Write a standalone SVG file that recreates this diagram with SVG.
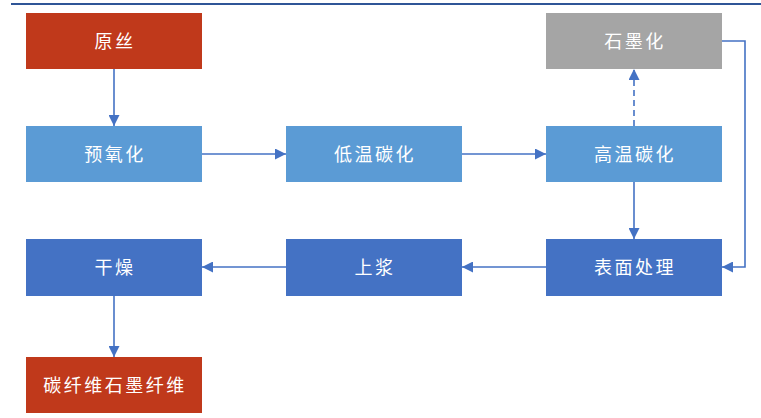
<svg xmlns="http://www.w3.org/2000/svg" width="761" height="418" viewBox="0 0 761 418">
  <style>
    .box text { font-family: "Noto Sans CJK SC", "Liberation Sans", sans-serif; font-size: 18px; fill: #ffffff; text-anchor: middle; dominant-baseline: central; letter-spacing: 2.5px; }
    .red { fill: #C0391B; }
    .gray { fill: #A5A5A5; }
    .light { fill: #5B9BD5; }
    .dark { fill: #4472C4; }
    .conn { stroke: #4472C4; stroke-width: 1.6; fill: none; marker-end: url(#arrow); }
    .dash { stroke-dasharray: 6 4; }
  </style>
  <defs>
    <marker id="arrow" viewBox="0 0 10 10" refX="10" refY="5" markerWidth="11" markerHeight="11" markerUnits="userSpaceOnUse" orient="auto">
      <path d="M0,0 L10,5 L0,10 Z" fill="#4472C4"/>
    </marker>
  </defs>

  <!-- header rule -->
  <line x1="11" y1="4" x2="761" y2="4" stroke="#2F5597" stroke-width="2"/>

  <g id="yuansi" class="box">
    <rect class="red" x="26" y="13" width="176" height="56"/>
    <text x="115" y="40">原丝</text>
  </g>
  <g id="shimohua" class="box">
    <rect class="gray" x="546" y="13" width="176" height="56"/>
    <text x="635" y="40">石墨化</text>
  </g>
  <g id="yuyanghua" class="box">
    <rect class="light" x="26" y="126" width="176" height="56"/>
    <text x="115" y="153">预氧化</text>
  </g>
  <g id="diwentanhua" class="box">
    <rect class="light" x="286" y="126" width="176" height="56"/>
    <text x="375" y="153">低温碳化</text>
  </g>
  <g id="gaowentanhua" class="box">
    <rect class="light" x="546" y="126" width="176" height="56"/>
    <text x="635" y="153">高温碳化</text>
  </g>
  <g id="ganzao" class="box">
    <rect class="dark" x="26" y="239" width="176" height="57"/>
    <text x="115" y="266">干燥</text>
  </g>
  <g id="shangjiang" class="box">
    <rect class="dark" x="286" y="239" width="176" height="57"/>
    <text x="375" y="266">上浆</text>
  </g>
  <g id="biaomianchuli" class="box">
    <rect class="dark" x="546" y="239" width="176" height="57"/>
    <text x="635" y="266">表面处理</text>
  </g>
  <g id="tanxianwei" class="box">
    <rect class="red" x="26" y="357" width="176" height="56"/>
    <text x="115" y="384">碳纤维石墨纤维</text>
  </g>

  <g id="connectors">
    <path class="conn" d="M114,69 V126"/>
    <path class="conn" d="M202,154 H286"/>
    <path class="conn" d="M462,154 H546"/>
    <path class="conn dash" d="M634,126 V69"/>
    <path class="conn" d="M634,182 V239"/>
    <path class="conn" d="M722,41 H745 V267 H722"/>
    <path class="conn" d="M546,267 H462"/>
    <path class="conn" d="M286,267 H202"/>
    <path class="conn" d="M114,296 V357"/>
  </g>
</svg>
